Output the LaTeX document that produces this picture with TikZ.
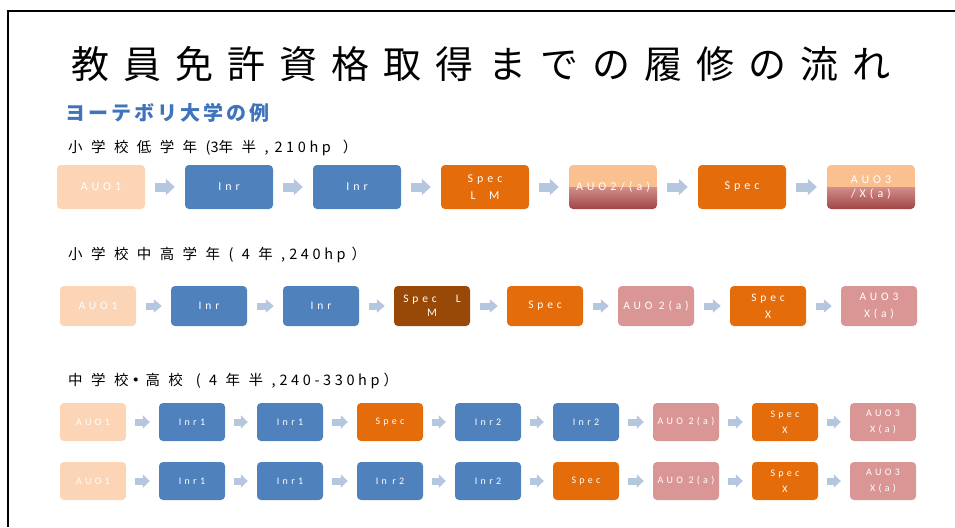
\documentclass[tikz,border=0pt]{standalone}
\usepackage{fontspec}
\usetikzlibrary{arrows.meta}
\newfontfamily\jptitle[LetterSpace=37]{Noto Sans CJK JP}
\newfontfamily\jplabel[LetterSpace=58]{Noto Sans CJK JP}
\newfontfamily\jpnols{Noto Sans CJK JP}
\newfontfamily\jplat[LetterSpace=25]{Noto Sans CJK JP}
\newfontfamily\jpsub[LetterSpace=15]{Noto Sans CJK JP}
\newfontfamily\bxfont[LetterSpace=33]{Carlito}
\definecolor{peach}{HTML}{FBD5B5}
\definecolor{inrblue}{HTML}{4F81BD}
\definecolor{specorange}{HTML}{E46C0A}
\definecolor{specbrown}{HTML}{984807}
\definecolor{auopink}{HTML}{D99694}
\definecolor{arrowc}{HTML}{B5C6DF}
\definecolor{gradtop}{HTML}{FAC08F}
\definecolor{gradmid}{HTML}{D38E8B}
\definecolor{gradbot}{HTML}{A04545}
\definecolor{subblue}{HTML}{3F74BC}
\tikzset{
  box/.style={rounded corners=4pt, inner sep=0pt, text=white, align=center},
  rowA/.style={box, minimum width=88pt, minimum height=44pt, font=\bxfont\fontsize{12}{17}\selectfont},
  rowB/.style={box, minimum width=76pt, minimum height=40pt, font=\bxfont\fontsize{11.5}{17}\selectfont},
  rowC/.style={box, minimum width=66pt, minimum height=38pt, font=\bxfont\fontsize{10}{16}\selectfont},
  auo1/.style={fill=peach},
  inr/.style={fill=inrblue},
  spec/.style={fill=specorange},
  specb/.style={fill=specbrown},
  auo/.style={fill=auopink},
  grad/.style={path picture={
    \fill[gradtop, sharp corners] (path picture bounding box.north west) rectangle (path picture bounding box.east);
    \shade[top color=gradmid, bottom color=gradbot, sharp corners] (path picture bounding box.west) rectangle (path picture bounding box.south east);}},
  arrA/.style={draw=arrowc, line width=9pt, -{Triangle[length=9pt,width=16pt]}, shorten <=10pt, shorten >=10pt},
  arrB/.style={draw=arrowc, line width=7pt, -{Triangle[length=8pt,width=13pt]}, shorten <=10pt, shorten >=9pt},
  arrC/.style={draw=arrowc, line width=7pt, -{Triangle[length=7pt,width=13pt]}, shorten <=9pt, shorten >=9pt},
  rowlabel/.style={anchor=west, inner sep=0pt, font=\fontsize{14.5}{18}\selectfont}
}
\begin{document}
\begin{tikzpicture}[x=1pt,y=-1pt]
\useasboundingbox (0,0) rectangle (955,527);
\draw[line width=2.5pt] (8,527) -- (8,11) -- (955,11);
\node[inner sep=0pt, font=\jptitle\fontsize{38}{42}\selectfont] (title) at (481,64) {教員免許資格取得までの履修の流れ};
\node[anchor=west, inner sep=0pt, font=\jpsub\bfseries\fontsize{20}{23}\selectfont, text=subblue] (sub) at (65,113) {ヨーテボリ大学の例};

% Row 1
\node[rowlabel] (l1) at (68,148) {{\jplabel 小学校低学年}\hspace{8.5pt}{\jpnols (3}{\jplabel 年半,}\hspace{6pt}{\jplat 210hp}\hspace{12pt}{\jpnols ）}};
\node[rowA, auo1] (a1) at (101,187) {AUO1};
\node[rowA, inr]  (a2) at (229,187) {Inr};
\node[rowA, inr]  (a3) at (357,187) {Inr};
\node[rowA, spec] (a4) at (485,187) {Spec\\L\ \ M};
\node[rowA, grad] (a5) at (613,187) {AUO2/(a)};
\node[rowA, spec] (a6) at (742,187) {Spec};
\node[rowA, grad] (a7) at (871,187) {AUO3\\[-3pt]/X(a)};
\foreach \p/\q in {a1/a2,a2/a3,a3/a4,a4/a5,a5/a6,a6/a7} \draw[arrA] (\p) -- (\q);

% Row 2
\node[rowlabel] (l2) at (68,255) {{\jplabel 小学校中高学年(4年,}\hspace{4pt}{\jplat 240hp}\hspace{6pt}{\jpnols ）}};
\node[rowB, auo1]  (b1) at (98,306) {AUO1};
\node[rowB, inr]   (b2) at (209,306) {Inr};
\node[rowB, inr]   (b3) at (321,306) {Inr};
\node[rowB, specb] (b4) at (432,306) {Spec\ \ \ L\\[-3pt]M};
\node[rowB, spec]  (b5) at (545,306) {Spec};
\node[rowB, auo]   (b6) at (656,306) {AUO 2(a)};
\node[rowB, spec]  (b7) at (768,306) {Spec\\X};
\node[rowB, auo]   (b8) at (879,306) {AUO3\\X(a)};
\foreach \p/\q in {b1/b2,b2/b3,b3/b4,b4/b5,b5/b6,b6/b7,b7/b8} \draw[arrB] (\p) -- (\q);

% Row 3
\node[rowlabel] (l3) at (68,381) {{\jplabel 中学校}{\jpnols\bfseries ・}\hspace{2.5pt}{\jplabel 高校}\hspace{13pt}{\jplabel (4年半,}\hspace{4pt}{\jplat 240-330hp}\hspace{4pt}{\jpnols ）}};
\node[rowC, auo1] (c1) at (93,422) {AUO1};
\node[rowC, inr]  (c2) at (192,422) {Inr1};
\node[rowC, inr]  (c3) at (290,422) {Inr1};
\node[rowC, spec] (c4) at (390,422) {Spec};
\node[rowC, inr]  (c5) at (488,422) {Inr2};
\node[rowC, inr]  (c6) at (586,422) {Inr2};
\node[rowC, auo]  (c7) at (686,422) {AUO 2(a)};
\node[rowC, spec] (c8) at (785,422) {Spec\\X};
\node[rowC, auo]  (c9) at (883,422) {AUO3\\X(a)};
\foreach \p/\q in {c1/c2,c2/c3,c3/c4,c4/c5,c5/c6,c6/c7,c7/c8,c8/c9} \draw[arrC] (\p) -- (\q);

% Row 4
\node[rowC, auo1] (d1) at (93,481) {AUO1};
\node[rowC, inr]  (d2) at (192,481) {Inr1};
\node[rowC, inr]  (d3) at (290,481) {Inr1};
\node[rowC, inr]  (d4) at (390,481) {In r2};
\node[rowC, inr]  (d5) at (488,481) {Inr2};
\node[rowC, spec] (d6) at (586,481) {Spec};
\node[rowC, auo]  (d7) at (686,481) {AUO 2(a)};
\node[rowC, spec] (d8) at (785,481) {Spec\\X};
\node[rowC, auo]  (d9) at (883,481) {AUO3\\X(a)};
\foreach \p/\q in {d1/d2,d2/d3,d3/d4,d4/d5,d5/d6,d6/d7,d7/d8,d8/d9} \draw[arrC] (\p) -- (\q);
\end{tikzpicture}
\end{document}
